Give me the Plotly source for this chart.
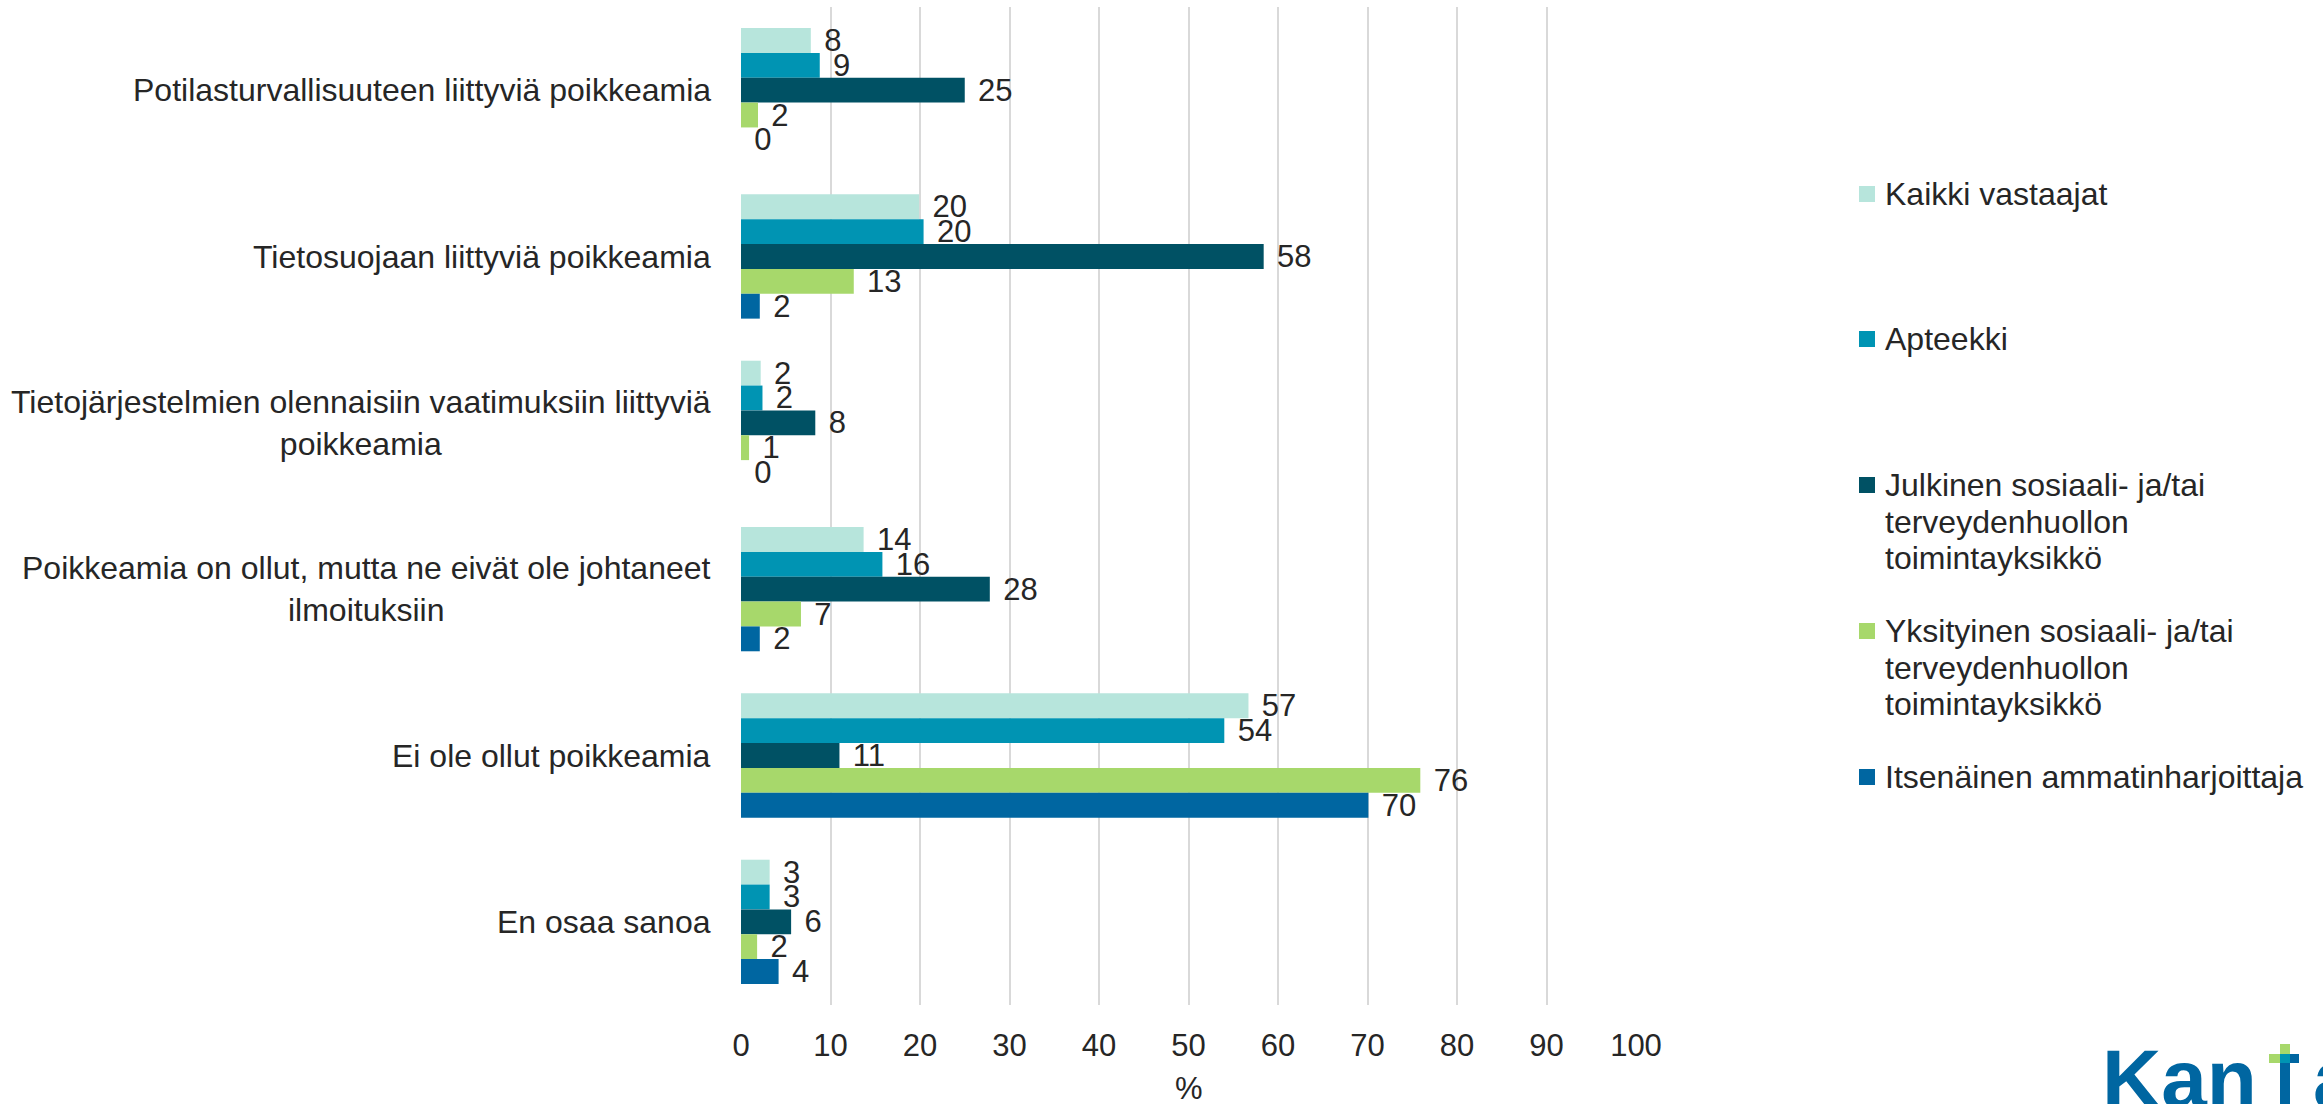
import plotly.graph_objects as go

# ---------------- data ----------------
categories = [
    "Potilasturvallisuuteen liittyviä poikkeamia",
    "Tietosuojaan liittyviä poikkeamia",
    "Tietojärjestelmien olennaisiin vaatimuksiin liittyviä poikkeamia",
    "Poikkeamia on ollut, mutta ne eivät ole johtaneet ilmoituksiin",
    "Ei ole ollut poikkeamia",
    "En osaa sanoa",
]
category_lines = [
    ["Potilasturvallisuuteen liittyviä poikkeamia"],
    ["Tietosuojaan liittyviä poikkeamia"],
    ["Tietojärjestelmien olennaisiin vaatimuksiin liittyviä", "poikkeamia"],
    ["Poikkeamia on ollut, mutta ne eivät ole johtaneet", "ilmoituksiin"],
    ["Ei ole ollut poikkeamia"],
    ["En osaa sanoa"],
]
series_names = [
    "Kaikki vastaajat",
    "Apteekki",
    "Julkinen sosiaali- ja/tai terveydenhuollon toimintayksikkö",
    "Yksityinen sosiaali- ja/tai terveydenhuollon toimintayksikkö",
    "Itsenäinen ammatinharjoittaja",
]
legend_lines = [
    ["Kaikki vastaajat"],
    ["Apteekki"],
    ["Julkinen sosiaali- ja/tai", "terveydenhuollon", "toimintayksikkö"],
    ["Yksityinen sosiaali- ja/tai", "terveydenhuollon", "toimintayksikkö"],
    ["Itsenäinen ammatinharjoittaja"],
]
kaikki = [7.8, 19.9, 2.2, 13.7, 56.7, 3.2]
apteekki = [8.8, 20.4, 2.4, 15.8, 54.0, 3.2]
julkinen = [25.0, 58.4, 8.3, 27.8, 11.0, 5.6]
yksityinen = [1.9, 12.6, 0.9, 6.7, 75.9, 1.8]
itsenainen = [0.0, 2.1, 0.0, 2.1, 70.1, 4.2]
x_ticks = [0, 10, 20, 30, 40, 50, 60, 70, 80, 90, 100]
x_title = "%"

# ---------------- style ----------------
colors = ["#B7E5DC", "#0094B3", "#005164", "#A7D86B", "#0066A1"]
FONT = "Liberation Sans, Arial, sans-serif"
TXT = "#262626"
W, H = 2323, 1104
PL, PR, PT, PB = 741, 1636, 7, 1005  # plot area in pixels


def px_x(px):
    return (px - PL) / (PR - PL)


def px_y(py):
    return (PB - py) / (PB - PT)


fig = go.Figure()
all_values = [kaikki, apteekki, julkinen, yksityinen, itsenainen]
for name, vals, col in zip(series_names, all_values, colors):
    fig.add_trace(go.Bar(
        y=categories, x=vals, name=name, orientation="h",
        marker=dict(color=col, line=dict(width=0)),
        text=vals, texttemplate="\u2004%{x:.0f}", textposition="outside",
        constraintext="none", textangle=0, cliponaxis=False,
        textfont=dict(family=FONT, size=31, color=TXT),
        showlegend=False, hoverinfo="x+name",
    ))

annotations = []
# category labels (centered multi-line, right edge near axis)
for cat, lines in zip(categories, category_lines):
    annotations.append(dict(
        x=px_x(713), xref="paper", y=cat, yref="y",
        xanchor="right", yanchor="middle", align="center",
        text="<br>".join(lines), showarrow=False,
        font=dict(family=FONT, size=32, color=TXT),
    ))

# x-axis title (placed near the bottom like the reference)
annotations.append(dict(
    x=0.5, xref="paper", y=px_y(1088), yref="paper",
    xanchor="center", yanchor="middle", text=x_title, showarrow=False,
    font=dict(family=FONT, size=31, color=TXT),
))

# manual legend
legend_y = [194, 339, 485, 631, 777]
line_h = 36.5
shapes = []
for lines, col, y0 in zip(legend_lines, colors, legend_y):
    shapes.append(dict(
        type="rect", xref="paper", yref="paper",
        x0=px_x(1859), x1=px_x(1875), y0=px_y(y0 - 8), y1=px_y(y0 + 8),
        fillcolor=col, line=dict(width=0),
    ))
    for i, ln in enumerate(lines):
        annotations.append(dict(
            x=px_x(1883), xref="paper", y=px_y(y0 + i * line_h), yref="paper",
            xanchor="left", yanchor="middle", text=ln, showarrow=False,
            font=dict(family=FONT, size=32, color=TXT),
        ))

# Kanta logo (bottom-right, partly cut off)
LOGO = "#0066A1"
LOGO_FONT = dict(family="Liberation Sans, Arial, sans-serif", size=82, color=LOGO, weight="bold")
annotations.append(dict(
    x=px_x(2100), xref="paper", y=px_y(1126), yref="paper",
    xanchor="left", yanchor="bottom", text="Kan", showarrow=False, font=LOGO_FONT,
))
annotations.append(dict(
    x=px_x(2311), xref="paper", y=px_y(1126), yref="paper",
    xanchor="left", yanchor="bottom", text="a", showarrow=False, font=LOGO_FONT,
))
for (x0, x1, y0, y1, c) in [
    (2280, 2290, 1054, 1110, LOGO),
    (2280, 2290, 1044, 1054, "#A7D86B"),
    (2269, 2280, 1054, 1063, "#A7D86B"),
    (2280, 2290, 1054, 1063, "#0094B3"),
    (2290, 2299, 1054, 1063, LOGO),
]:
    shapes.append(dict(type="rect", xref="paper", yref="paper",
                       x0=px_x(x0), x1=px_x(x1), y0=px_y(y1), y1=px_y(y0),
                       fillcolor=c, line=dict(width=0)))

fig.update_layout(
    width=W, height=H,
    margin=dict(l=PL, r=W - PR, t=PT, b=H - PB, pad=0),
    barmode="group", bargap=0.253, bargroupgap=0,
    plot_bgcolor="white", paper_bgcolor="white",
    font=dict(family=FONT, color=TXT),
    annotations=annotations, shapes=shapes,
    xaxis=dict(
        range=[0, 100], tickvals=x_ticks, ticktext=[str(v) for v in x_ticks],
        showgrid=True, gridcolor="#D9D9D9", gridwidth=2,
        zeroline=False, showline=False, ticks="",
        tickfont=dict(family=FONT, size=31, color=TXT),
        ticklabelstandoff=19, automargin=False,
    ),
    yaxis=dict(
        categoryorder="array", categoryarray=categories,
        autorange="reversed", showticklabels=False, showgrid=False,
        zeroline=False, showline=False, ticks="", automargin=False,
    ),
)

fig.write_html(
    "out.html",
    config={"displayModeBar": False},
    post_script="document.body.style.margin='0';document.body.style.overflow='hidden';",
)
